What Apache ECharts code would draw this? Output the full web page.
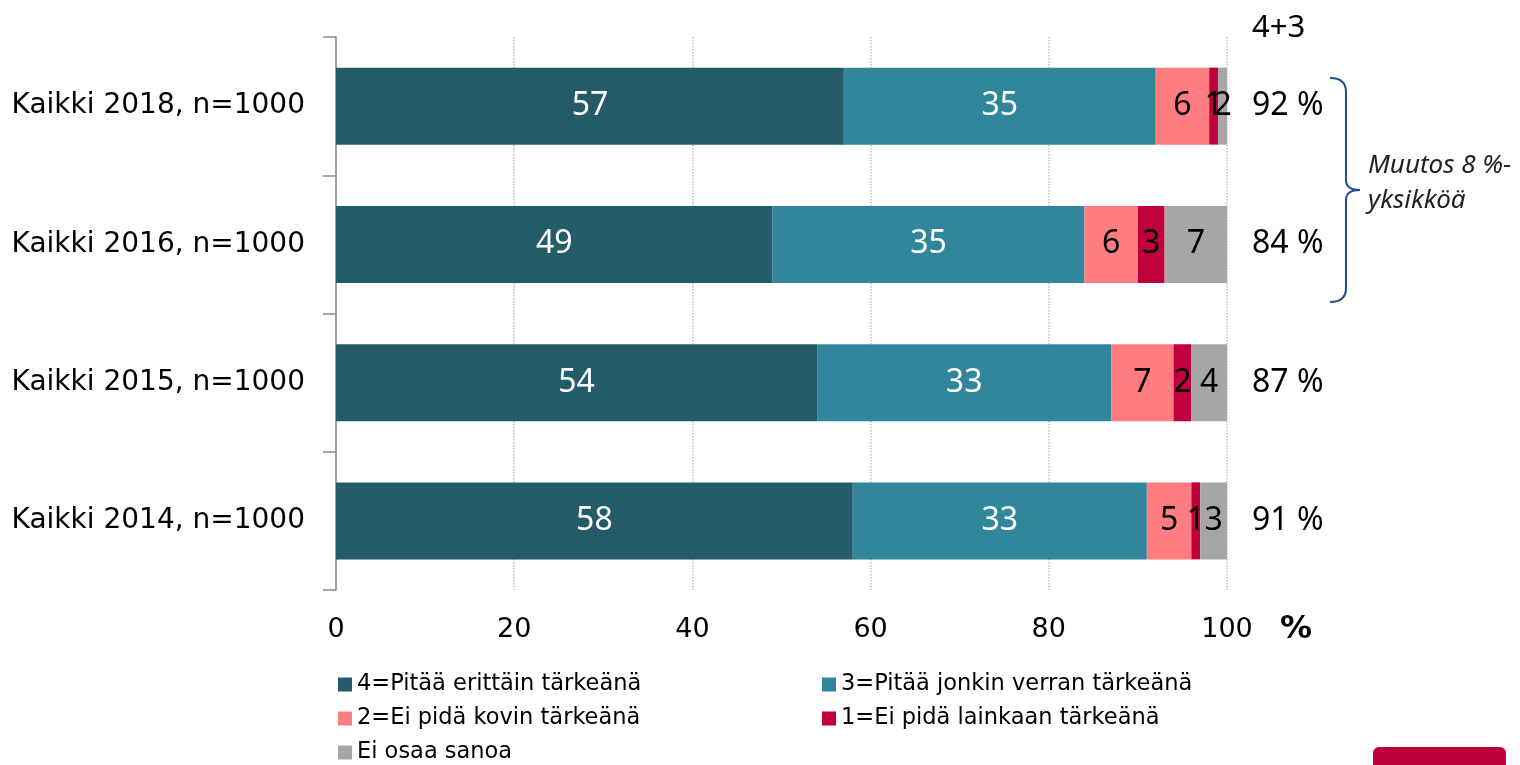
<!DOCTYPE html>
<html>
<head>
    <meta charset="utf-8">
    <title>Kaikki 2014-2018</title>
    <script src="https://cdn.jsdelivr.net/npm/echarts@6/dist/echarts.min.js"></script>
    <style>
        html, body { margin: 0; padding: 0; background: #fff; }
        #chart { width: 1520px; height: 765px; }
    </style>
</head>
<body>
<div id="chart"></div>
<script>

var categories = ['Kaikki 2018, n=1000', 'Kaikki 2016, n=1000', 'Kaikki 2015, n=1000', 'Kaikki 2014, n=1000'];
var names = ['4=Pitää erittäin tärkeänä', '3=Pitää jonkin verran tärkeänä', '2=Ei pidä kovin tärkeänä', '1=Ei pidä lainkaan tärkeänä', 'Ei osaa sanoa'];
var v4 = [57, 49, 54, 58];
var v3 = [35, 35, 33, 33];
var v2 = [6, 6, 7, 5];
var v1 = [1, 3, 2, 1];
var eos = [2, 7, 4, 3];
var xTicks = [0, 20, 40, 60, 80, 100];

var colors = ['#235B68', '#31869B', '#FF7C80', '#C0003C', '#A6A6A6'];
var labelColors = ['#fff', '#fff', '#000', '#000', '#000'];
var values = [v4, v3, v2, v1, eos];

var sans = 'DejaVu Sans';
var calib = 'Noto Sans';

var series = [];
for (var i = 0; i < 5; i++) {
    series.push({
        name: names[i],
        type: 'bar',
        stack: 'all',
        barWidth: 77,
        data: values[i],
        itemStyle: { color: colors[i] },
        label: {
            show: true,
            position: 'inside',
            color: labelColors[i],
            fontFamily: calib,
            fontSize: 32
        }
    });
}

// legend positions, one component each
var legendPos = [[338, 673], [822, 673], [338, 707], [822, 707], [338, 741]];
var legends = [];
for (i = 0; i < 5; i++) {
    legends.push({
        data: [names[i]],
        left: legendPos[i][0],
        top: legendPos[i][1],
        padding: 0,
        icon: 'rect',
        itemWidth: 14,
        itemHeight: 14,
        selectedMode: false,
        textStyle: { fontFamily: sans, fontSize: 22.5, color: '#000' }
    });
}

var myChart = echarts.init(document.getElementById('chart'));
var option = {
    animation: false,
    grid: { left: 336, right: 293, top: 37, bottom: 175, containLabel: false },
    legend: legends,
    xAxis: {
        type: 'value',
        min: 0,
        max: 100,
        interval: 20,
        axisLine: { show: false },
        axisTick: { show: false },
        axisLabel: {
            margin: 26,
            fontFamily: sans,
            fontSize: 27,
            color: '#000',
            formatter: function (v) { return xTicks.indexOf(v) >= 0 ? String(v) : ''; }
        },
        splitLine: { show: true, lineStyle: { type: 'dotted', color: '#BDBDBD', width: 1.5 } }
    },
    yAxis: {
        type: 'category',
        inverse: true,
        data: categories,
        axisLine: { show: true, lineStyle: { color: '#8C8C8C', width: 1.5 } },
        axisTick: { show: true, length: 13, lineStyle: { color: '#8C8C8C', width: 1.5 } },
        axisLabel: { margin: 31, fontFamily: sans, fontSize: 28, color: '#000' }
    },
    series: series
};
myChart.setOption(option);

// right side 4+3 totals and annotations
var g = [];
g.push({ type: 'text', x: 1252, y: 28, style: { text: '4+3', fontFamily: calib, fontSize: 31, fill: '#000', verticalAlign: 'middle' } });
for (i = 0; i < categories.length; i++) {
    var y = myChart.convertToPixel({ yAxisIndex: 0 }, categories[i]);
    g.push({
        type: 'text', x: 1252, y: y,
        style: { text: (v4[i] + v3[i]) + ' %', fontFamily: calib, fontSize: 32, fill: '#000', verticalAlign: 'middle' }
    });
}
var brace = { stroke: '#1F4E96', lineWidth: 2, fill: null };
g.push({ type: 'bezierCurve', shape: { x1: 1330, y1: 78, cpx1: 1346, cpy1: 78, x2: 1346, y2: 92 }, style: brace });
g.push({ type: 'line', shape: { x1: 1346, y1: 92, x2: 1346, y2: 180 }, style: brace });
g.push({ type: 'bezierCurve', shape: { x1: 1346, y1: 180, cpx1: 1346, cpy1: 190, x2: 1360, y2: 190 }, style: brace });
g.push({ type: 'bezierCurve', shape: { x1: 1360, y1: 190, cpx1: 1346, cpy1: 190, x2: 1346, y2: 200 }, style: brace });
g.push({ type: 'line', shape: { x1: 1346, y1: 200, x2: 1346, y2: 288 }, style: brace });
g.push({ type: 'bezierCurve', shape: { x1: 1346, y1: 288, cpx1: 1346, cpy1: 302, x2: 1330, y2: 302 }, style: brace });
g.push({ type: 'text', x: 1368, y: 166, style: { text: 'Muutos 8 %-', fontFamily: calib, fontStyle: 'italic', fontSize: 26, fill: '#222', verticalAlign: 'middle' } });
g.push({ type: 'text', x: 1368, y: 201, style: { text: 'yksikköä', fontFamily: calib, fontStyle: 'italic', fontSize: 26, fill: '#222', verticalAlign: 'middle' } });
g.push({ type: 'text', x: 1280, y: 630, style: { text: '%', fontFamily: sans, fontWeight: 'bold', fontSize: 32, fill: '#000', verticalAlign: 'middle' } });
g.push({ type: 'rect', shape: { x: 1373, y: 747, width: 133, height: 40, r: 6 }, style: { fill: '#C0003C' } });
myChart.setOption({ graphic: g });

</script>
</body>
</html>
